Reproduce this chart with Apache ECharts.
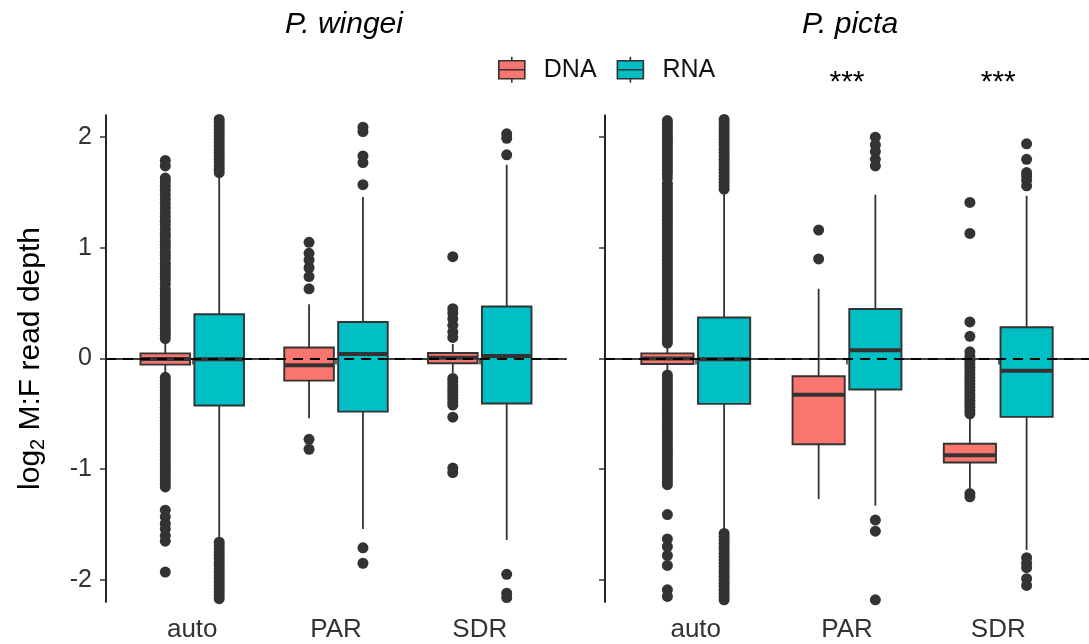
<!DOCTYPE html>
<html>
<head>
<meta charset="utf-8">
<script src="https://cdn.jsdelivr.net/npm/echarts@6.0.0/dist/echarts.min.js"></script>
<style>
  html, body { margin: 0; padding: 0; background: #ffffff; }
  #chart { width: 1089px; height: 644px; }
</style>
</head>
<body>
<div id="chart"></div>
<script>
// ---------------- data ----------------
const categories = ['auto', 'PAR', 'SDR'];
const panelTitles = ['P. wingei', 'P. picta'];
const groups = ['DNA', 'RNA'];
const yTicks = [-2, -1, 0, 1, 2];
const pictaSignif = ['', '***', '***'];

// box stats per category: [lower whisker, Q1, median, Q3, upper whisker]
const wingeiDNA = [
  [-0.15, -0.055, -0.005, 0.046, 0.15],
  [-0.54, -0.20, -0.062, 0.10, 0.49],
  [-0.13, -0.043, 0.006, 0.05, 0.13]
];
const wingeiRNA = [
  [-1.63, -0.425, -0.006, 0.40, 1.66],
  [-1.54, -0.48, 0.04, 0.33, 1.46],
  [-1.64, -0.406, 0.022, 0.47, 1.75]
];
const pictaDNA = [
  [-0.11, -0.05, 0.0, 0.046, 0.11],
  [-1.27, -0.775, -0.328, -0.16, 0.63],
  [-1.17, -0.94, -0.875, -0.77, -0.54]
];
const pictaRNA = [
  [-1.55, -0.41, -0.006, 0.37, 1.51],
  [-1.33, -0.28, 0.074, 0.447, 1.48],
  [-1.73, -0.527, -0.11, 0.283, 1.47]
];

// outliers per category
const wingeiDNAOut = [
  [0.18, 0.21, 0.24, 0.27, 0.30, 0.33, 0.36, 0.39, 0.42, 0.45, 0.48, 0.51, 0.54, 0.57, 0.60, 0.63,
   0.67, 0.71, 0.74, 0.77, 0.80, 0.83, 0.86, 0.90, 0.93, 0.96, 1.00, 1.03, 1.06, 1.10, 1.13, 1.17,
   1.21, 1.24, 1.28, 1.32, 1.36, 1.40, 1.44, 1.48, 1.52, 1.56, 1.60, 1.63, 1.74, 1.79,
   -0.17, -0.20, -0.23, -0.26, -0.29, -0.32, -0.35, -0.38, -0.41, -0.44, -0.47, -0.50, -0.53, -0.56,
   -0.59, -0.62, -0.65, -0.68, -0.71, -0.74, -0.77, -0.80, -0.83, -0.86, -0.89, -0.92, -0.95, -0.98,
   -1.01, -1.04, -1.07, -1.10, -1.13, -1.16, -1.37, -1.43, -1.49, -1.54, -1.60, -1.65, -1.93],
  [0.63, 0.74, 0.82, 0.89, 0.95, 1.05, -0.73, -0.82],
  [0.19, 0.24, 0.30, 0.36, 0.41, 0.45, 0.92,
   -0.18, -0.21, -0.24, -0.27, -0.30, -0.33, -0.36, -0.39, -0.42, -0.53, -0.99, -1.03]
];
const wingeiRNAOut = [
  [1.68, 1.71, 1.74, 1.77, 1.80, 1.83, 1.86, 1.89, 1.92, 1.95, 1.98, 2.01, 2.04, 2.07, 2.10, 2.13, 2.16,
   -1.66, -1.69, -1.72, -1.75, -1.78, -1.81, -1.84, -1.87, -1.90, -1.93, -1.96, -1.99, -2.02, -2.05,
   -2.08, -2.11, -2.14, -2.17],
  [1.57, 1.77, 1.83, 2.05, 2.09, -1.71, -1.85],
  [1.84, 1.99, 2.03, -1.95, -2.12, -2.16]
];
const pictaDNAOut = [
  [0.14, 0.17, 0.20, 0.23, 0.26, 0.29, 0.32, 0.35, 0.38, 0.41, 0.44, 0.47, 0.50, 0.53, 0.56, 0.59,
   0.62, 0.65, 0.68, 0.71, 0.74, 0.77, 0.80, 0.83, 0.86, 0.89, 0.92, 0.95, 0.98, 1.01, 1.04, 1.07,
   1.10, 1.13, 1.16, 1.19, 1.22, 1.25, 1.28, 1.31, 1.34, 1.37, 1.40, 1.43, 1.46, 1.49, 1.52, 1.55,
   1.58, 1.63, 1.67, 1.70, 1.73, 1.76, 1.79, 1.82, 1.85, 1.88, 1.91, 1.94, 1.97, 2.00, 2.03, 2.06,
   2.09, 2.12, 2.15,
   -0.15, -0.18, -0.21, -0.24, -0.27, -0.30, -0.33, -0.36, -0.39, -0.42, -0.45, -0.48, -0.51, -0.54,
   -0.57, -0.60, -0.63, -0.66, -0.69, -0.72, -0.75, -0.78, -0.81, -0.84, -0.87, -0.90, -0.93, -0.96,
   -0.99, -1.02, -1.05, -1.08, -1.11, -1.14, -1.41, -1.63, -1.70, -1.78, -1.87, -2.09, -2.15],
  [0.90, 1.16],
  [-0.50, -0.47, -0.44, -0.41, -0.38, -0.35, -0.32, -0.29, -0.26, -0.23, -0.20, -0.17, -0.14, -0.11,
   -0.08, -0.05, -0.02, 0.02, 0.06, 0.20, 0.33, 1.13, 1.41, -1.22, -1.25]
];
const pictaRNAOut = [
  [1.53, 1.56, 1.59, 1.62, 1.65, 1.68, 1.71, 1.74, 1.77, 1.80, 1.83, 1.86, 1.89, 1.92, 1.95, 1.98,
   2.01, 2.04, 2.07, 2.10, 2.13, 2.16,
   -1.58, -1.61, -1.64, -1.67, -1.70, -1.73, -1.76, -1.79, -1.82, -1.85, -1.88, -1.91, -1.94, -1.97,
   -2.00, -2.03, -2.06, -2.09, -2.12, -2.15, -2.18],
  [1.74, 1.80, 1.87, 1.93, 2.00, -1.46, -1.56, -2.18],
  [1.56, 1.61, 1.65, 1.68, 1.80, 1.94, -1.80, -1.85, -1.89, -1.99, -2.05]
];

// ---------------- style / layout ----------------
const COLORS = { DNA: '#F8766D', RNA: '#00BFC4' };
const EDGE = '#333333';
const FONT = '"Liberation Sans", Arial, Helvetica, sans-serif';
const DODGE = 0.1875;
const BOX_WIDTH = 0.345;
const SIGNIF_Y = 2.49;
const GRIDS = [
  { left: 106, top: 115, width: 460, height: 487 },
  { left: 605, top: 115, width: 490, height: 487 }
];
const TITLE_X = [344, 850];

const stats = [[wingeiDNA, wingeiRNA], [pictaDNA, pictaRNA]];
const outs = [[wingeiDNAOut, wingeiRNAOut], [pictaDNAOut, pictaRNAOut]];

function renderBox(params, api) {
  const x = api.value(0);
  const pLo = api.coord([x, api.value(1)]);
  const pQ1 = api.coord([x, api.value(2)]);
  const pMed = api.coord([x, api.value(3)]);
  const pQ3 = api.coord([x, api.value(4)]);
  const pHi = api.coord([x, api.value(5)]);
  const w = api.size([BOX_WIDTH, 0])[0];
  const fill = api.visual('color');
  return {
    type: 'group',
    children: [
      { type: 'line', shape: { x1: pLo[0], y1: pLo[1], x2: pQ1[0], y2: pQ1[1] }, style: { stroke: EDGE, lineWidth: 1.8 } },
      { type: 'line', shape: { x1: pQ3[0], y1: pQ3[1], x2: pHi[0], y2: pHi[1] }, style: { stroke: EDGE, lineWidth: 1.8 } },
      { type: 'rect', shape: { x: pQ3[0] - w / 2, y: pQ3[1], width: w, height: pQ1[1] - pQ3[1] }, style: { fill: fill, stroke: EDGE, lineWidth: 1.9 } },
      { type: 'line', shape: { x1: pMed[0] - w / 2, y1: pMed[1], x2: pMed[0] + w / 2, y2: pMed[1] }, style: { stroke: EDGE, lineWidth: 4 } }
    ]
  };
}

const xAxes = [], yAxes = [], series = [], graphics = [];
GRIDS.forEach((g, p) => {
  xAxes.push({
    gridIndex: p, type: 'value', min: 0.4, max: 3.6,
    axisLine: { show: true, lineStyle: { color: '#000', width: 1.7 } },
    axisTick: { show: true, customValues: [1, 2, 3], length: 6, lineStyle: { color: EDGE, width: 1.5 } },
    axisLabel: { show: true, customValues: [1, 2, 3], formatter: v => categories[Math.round(v) - 1] || '',
      fontSize: 26, color: '#333', fontFamily: FONT, margin: 15 },
    splitLine: { show: false }
  });
  yAxes.push({
    gridIndex: p, type: 'value', min: -2.2, max: 2.2,
    axisLine: { show: true, lineStyle: { color: '#000', width: 1.7 } },
    axisTick: { show: true, customValues: yTicks, length: 6, lineStyle: { color: EDGE, width: 1.5 } },
    axisLabel: { show: p === 0, customValues: yTicks, fontSize: 25, color: '#333', fontFamily: FONT, margin: 14 },
    splitLine: { show: false },
    name: p === 0 ? '{a|log}{b|2}{a| M:F read depth}' : '',
    nameLocation: 'middle', nameRotate: 90, nameGap: 58,
    nameTextStyle: {
      rich: {
        a: { fontSize: 30, color: '#000', fontFamily: FONT },
        b: { fontSize: 20, color: '#000', fontFamily: FONT, verticalAlign: 'bottom', padding: [14, 0, 0, 0] }
      }
    }
  });
  groups.forEach((grp, gi) => {
    const off = gi === 0 ? -DODGE : DODGE;
    series.push({
      type: 'custom', name: grp, xAxisIndex: p, yAxisIndex: p, clip: true, z: 2,
      itemStyle: { color: COLORS[grp] },
      renderItem: renderBox,
      encode: { x: 0, y: [1, 2, 3, 4, 5] },
      data: stats[p][gi].map((s, i) => [i + 1 + off].concat(s))
    });
    const pts = [];
    outs[p][gi].forEach((arr, i) => arr.forEach(v => pts.push([i + 1 + off, v])));
    const sc = {
      type: 'scatter', name: grp + ' outliers', xAxisIndex: p, yAxisIndex: p, clip: true, z: 3,
      symbol: 'circle', symbolSize: 11, itemStyle: { color: EDGE, opacity: 1 },
      silent: true, data: pts
    };
    if (gi === 1) {
      sc.markLine = {
        silent: true, symbol: ['none', 'none'], label: { show: false }, z: 6,
        lineStyle: { color: '#000', type: [10, 7], width: 2.2 },
        data: [{ yAxis: 0 }]
      };
    }
    series.push(sc);
  });
  graphics.push({
    type: 'text', x: TITLE_X[p], y: 25,
    style: { text: panelTitles[p], textAlign: 'center', textVerticalAlign: 'middle',
      font: 'italic 30px ' + FONT, fill: '#000' }
  });
});

const iconPath = 'path://M0,4 L26,4 L26,22 L0,22 Z M0,13 L26,13 M13,0 L13,4 M13,22 L13,26';

const option = {
  animation: false,
  backgroundColor: '#ffffff',
  grid: GRIDS,
  xAxis: xAxes,
  yAxis: yAxes,
  legend: {
    left: 493, top: 51, itemWidth: 26, itemHeight: 26, itemGap: 20,
    selectedMode: false,
    textStyle: { fontSize: 25, color: '#111', fontFamily: FONT, padding: [0, 0, 0, 14] },
    data: groups.map(g => ({ name: g, icon: iconPath,
      itemStyle: { color: COLORS[g], borderColor: EDGE, borderWidth: 1.6 } }))
  },
  graphic: graphics,
  series: series
};

const chart = echarts.init(document.getElementById('chart'), null, { renderer: 'canvas' });
chart.setOption(option);

// significance stars above P. picta categories, placed through the axes
const signifTexts = [];
pictaSignif.forEach((s, i) => {
  if (!s) return;
  const pt = chart.convertToPixel({ gridIndex: 1 }, [i + 1, SIGNIF_Y]);
  signifTexts.push({
    type: 'text', x: pt[0], y: pt[1],
    style: { text: s, textAlign: 'center', textVerticalAlign: 'middle', font: '30px ' + FONT, fill: '#000' }
  });
});
chart.setOption({ graphic: graphics.concat(signifTexts) });
</script>
</body>
</html>
